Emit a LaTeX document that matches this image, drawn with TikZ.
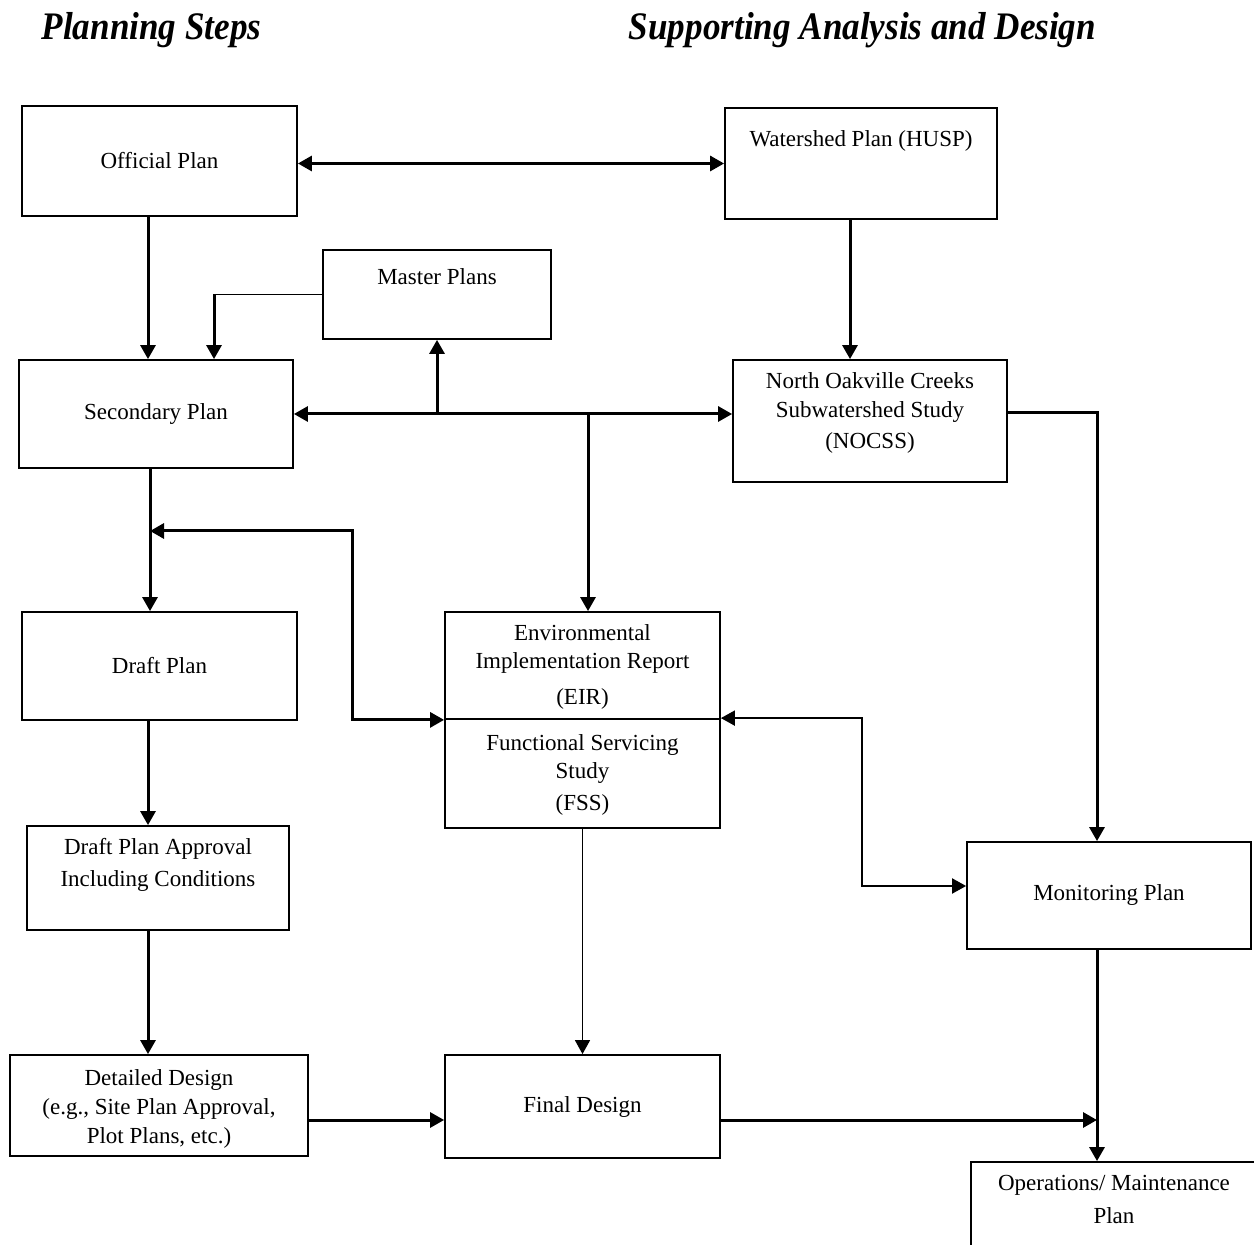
\documentclass[tikz,border=0pt]{standalone}
\usepackage{fontspec}
\setmainfont{Liberation Serif}
\newfontfamily\titlefont[FakeStretch=0.9]{Liberation Serif}
\usetikzlibrary{arrows.meta}

\tikzset{
  box/.style={draw, line width=0.9pt, inner sep=0pt, align=center},
  wh/.style 2 args={minimum width=#1*0.5pt, minimum height=#2*0.5pt},
  txt/.style={inner sep=0pt, align=center, anchor=north},
  head/.style={anchor=base, font=\titlefont\bfseries\itshape\fontsize{19.5}{24}\selectfont},
  tip/.style={-{Triangle[length=7pt,width=7.5pt]}},
  link/.style={line width=1.5pt, tip},
  links/.style={line width=1.5pt, {Triangle[length=7pt,width=7.5pt]}-{Triangle[length=7pt,width=7.5pt]}},
  thinlink/.style={line width=0.8pt, tip}
}

\begin{document}
\begin{tikzpicture}[x=0.5pt,y=-0.5pt,font=\fontsize{11.5}{14.5}\selectfont]
  \useasboundingbox (0,0) rectangle (1254,1245);
  % column headings
  \node[head] (lefthead) at (151.5,40) {Planning Steps};
  \node[head] (righthead) at (862.5,40) {Supporting Analysis and Design};

  % planning steps
  \node[box,wh={275}{110}] (official) at (159.5,161) {Official Plan};
  \node[box,wh={274}{108}] (secondary) at (156,414) {Secondary Plan};
  \node[box,wh={275}{108}] (draft) at (159.5,666) {Draft Plan};
  \node[box,wh={262}{104}] (approval) at (158,878) {};
  \node[txt] (approvaltxt) at ([yshift=-6.5pt]approval.north)
    {Draft Plan Approval\\[1.5pt]Including Conditions};
  \node[box,wh={298}{101}] (detailed) at (159,1105.5) {};
  \node[txt] (detailedtxt) at ([yshift=-7.5pt]detailed.north)
    {Detailed Design\\(e.g., Site Plan Approval,\\Plot Plans, etc.)};

  % supporting analysis and design
  \node[box,wh={272}{111}] (watershed) at (861,163.5) {};
  \node[txt] (watershedtxt) at ([yshift=-11.5pt]watershed.north) {Watershed Plan (HUSP)};
  \node[box,wh={228}{89}] (master) at (437,294.5) {};
  \node[txt] (mastertxt) at ([yshift=-9.5pt]master.north) {Master Plans};
  \node[box,wh={274}{122}] (nocss) at (870,421) {};
  \node[txt] (nocsstxt) at ([yshift=-6.5pt]nocss.north)
    {North Oakville Creeks\\Subwatershed Study\\[1pt](NOCSS)};
  \node[box,wh={275}{107}] (eir) at (582.5,665.5) {};
  \node[txt] (eirtxt) at ([yshift=-6.5pt]eir.north)
    {Environmental\\[-0.5pt]Implementation Report\\[3.5pt](EIR)};
  \node[box,wh={275}{109}] (fss) at (582.5,773.5) {};
  \node[txt] (fsstxt) at ([yshift=-8pt]fss.north)
    {Functional Servicing\\[-0.5pt]Study\\[1.5pt](FSS)};
  \node[box,wh={284}{107}] (monitoring) at (1109,895.5) {Monitoring Plan};
  \node[box,wh={275}{103}] (final) at (582.5,1106.5) {Final Design};
  \node[box,wh={286}{100}] (ops) at (1114,1212) {};
  \node[txt] (opstxt) at ([yshift=-7pt]ops.north)
    {Operations/ Maintenance\\[2pt]Plan};

  % helper points
  \coordinate (od) at ([xshift=-5.75pt]official.south);
  \coordinate (sm) at ([xshift=29pt]secondary.north);
  \coordinate (wd) at ([xshift=-5.5pt]watershed.south);
  \coordinate (sd) at ([xshift=-3pt]secondary.south);
  \coordinate (ed) at ([xshift=2.75pt]eir.north);
  \coordinate (ne) at ([yshift=4pt]nocss.east);
  \coordinate (mv) at ([xshift=-6pt]monitoring.south);
  \coordinate (dd) at ([xshift=-5.75pt]draft.south);
  \coordinate (ad) at ([xshift=-5pt]approval.south);
  \coordinate (de) at ([yshift=-7.25pt]detailed.east);
  \coordinate (fe) at ([yshift=-6.75pt]final.east);
  \coordinate (fb) at (352,531);
  \coordinate (mj) at (862,886);

  % connectors
  \draw[links] (official.east |- watershed.west) -- (watershed.west);
  \draw[link] (od) -- (od |- secondary.north);
  \draw[line width=0.8pt] (master.west) -- (sm |- master.west);
  \draw[link] (sm |- master.west) -- (sm);
  \draw[link] (wd) -- (wd |- nocss.north);
  \draw[links] (secondary.east) -- (secondary.east -| nocss.west);
  \draw[link] (secondary.east -| master.south) -- (master.south);
  \draw[link] (secondary.east -| ed) -- (ed);
  \draw[link] (ne) -| (mv |- monitoring.north);
  \draw[link] (sd) -- (sd |- draft.north);
  \draw[links] (eir.south west) -| (fb) -- (fb -| sd);
  \draw[link] (dd) -- (dd |- approval.north);
  \draw[link] (ad) -- (ad |- detailed.north);
  \draw[link] (de) -- (de -| final.west);
  \draw[thinlink] (fss.south) -- (final.north);
  \draw[line width=1pt, {Triangle[length=7pt,width=7.5pt]}-{Triangle[length=7pt,width=7.5pt]}]
    (fss.north east) -| (mj) -- (mj -| monitoring.west);
  \draw[link] (fe) -- (fe -| mv);
  \draw[link] (mv) -- (mv |- ops.north);
\end{tikzpicture}
\end{document}
